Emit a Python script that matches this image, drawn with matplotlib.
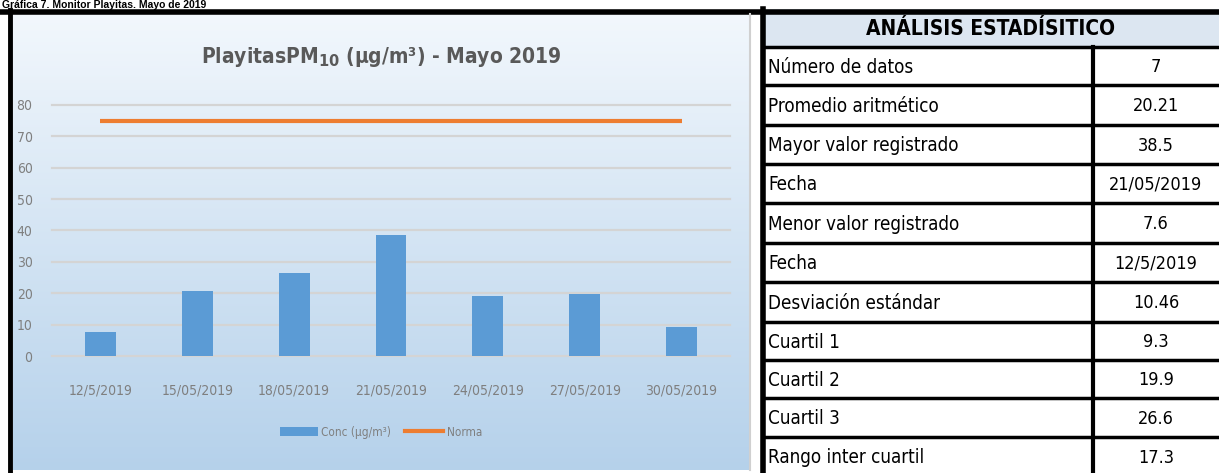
import numpy as np
import matplotlib
matplotlib.use("Agg")
import matplotlib.pyplot as plt
from matplotlib import font_manager as fm
from matplotlib.lines import Line2D
from matplotlib.patches import Patch, Rectangle

# data
fechas = ["12/5/2019", "15/05/2019", "18/05/2019", "21/05/2019",
          "24/05/2019", "27/05/2019", "30/05/2019"]
conc = [7.6, 20.6, 26.6, 38.5, 19.0, 19.9, 9.3]
norma = [75, 75, 75, 75, 75, 75, 75]

stat_labels = ["Número de datos", "Promedio aritmético", "Mayor valor registrado",
               "Fecha", "Menor valor registrado", "Fecha", "Desviación estándar",
               "Cuartil 1", "Cuartil 2", "Cuartil 3", "Rango inter cuartil"]
stat_values = ["7", "20.21", "38.5", "21/05/2019", "7.6", "12/5/2019", "10.46",
               "9.3", "19.9", "26.6", "17.3"]

W, H = 1219, 473
names = {f.name for f in fm.fontManager.ttflist}
NARROW = "Liberation Sans Narrow" if "Liberation Sans Narrow" in names else "DejaVu Sans"
STRETCH = "normal" if NARROW == "Liberation Sans Narrow" else "condensed"


def fx(px):
    return px / W


def fy(py):
    return 1 - py / H


fig = plt.figure(figsize=(W / 100, H / 100), dpi=100)
fig.patch.set_facecolor("white")

# caption at very top (cut off in the original, kept small here)
fig.text(fx(2), fy(0.5), "Gráfica 7. Monitor Playitas. Mayo de 2019", fontsize=7.5,
         fontweight="bold", family="Liberation Sans", va="top", ha="left")

# gradient background of chart panel
bg = fig.add_axes([fx(13), fy(470), fx(737), (470 - 14) / H], zorder=0)
grad = np.linspace(0, 1, 256)[:, None, None]
top = np.array([0.95, 0.97, 0.99])
bot = np.array([0.71, 0.82, 0.92])
img = top + (bot - top) * grad
bg.imshow(img, aspect="auto", extent=[0, 1, 0, 1], origin="upper")
bg.set_axis_off()

# frame lines
fig.add_artist(Line2D([fx(0), fx(W)], [fy(12), fy(12)], color="black", lw=4))
fig.add_artist(Line2D([fx(10), fx(10)], [fy(10), fy(H)], color="black", lw=3.5))
fig.add_artist(Line2D([fx(750), fx(750)], [fy(14), fy(470)], color="#d0d0d0", lw=1.5))

# main chart
ax = fig.add_axes([fx(52), fy(356), fx(678), (356 - 105) / H], zorder=2)
ax.patch.set_alpha(0)
x = np.arange(len(fechas))
ax.bar(x, conc, width=0.32, color="#5b9bd5", zorder=3, label="Conc (µg/m³)")
ax.plot(x, norma, color="#ed7d31", lw=3, solid_capstyle="butt", zorder=4, label="Norma")
ax.set_xlim(-0.5, len(fechas) - 0.5)
ax.set_ylim(0, 80)
ax.set_yticks(range(0, 81, 10))
ax.yaxis.grid(True, color="#d4d4d4", lw=1.6, zorder=1)
for gl in ax.get_ygridlines():
    gl.set_clip_on(False)
ax.set_axisbelow(True)
for s in ax.spines.values():
    s.set_visible(False)
ax.tick_params(length=0, colors="#7f7f7f")
ax.tick_params(axis="y", pad=14)
ax.tick_params(axis="x", pad=20)
ax.set_xticks(x)
ax.set_xticklabels(fechas)
for lab in ax.get_xticklabels() + ax.get_yticklabels():
    lab.set_family(NARROW)
    lab.set_stretch(STRETCH)
    lab.set_fontsize(10)
    lab.set_color("#7f7f7f")

fig.text(fx(381), fy(57), "PlayitasPM$_{\\mathbf{10}}$ (µg/m³) - Mayo 2019", fontsize=15,
         color="#595959", family=NARROW, stretch=STRETCH, fontweight="bold",
         ha="center", va="center")

handles = [Patch(facecolor="#5b9bd5", edgecolor="none", label="Conc (µg/m³)"),
           Line2D([], [], color="#ed7d31", lw=3, label="Norma")]
fig.legend(handles=handles, loc="center", bbox_to_anchor=(fx(381), fy(432)), ncol=2,
           frameon=False, prop={"family": NARROW, "stretch": STRETCH, "size": 8.5},
           labelcolor="#7f7f7f", handlelength=3.2, handleheight=0.9,
           columnspacing=1.2, handletextpad=0.3)

# statistics table
tl, tm, tr = 763, 1093, W
rows = [9, 47, 85, 125, 164, 203, 243, 282, 322, 360, 398, 437, 476]
fig.add_artist(Rectangle((fx(tl), fy(rows[1])), fx(tr - tl), (rows[1] - rows[0]) / H,
                         facecolor="#dce6f1", edgecolor="none", zorder=1))
fig.text(fx((tl + tr) / 2), fy((rows[0] + rows[1]) / 2 + 1), "ANÁLISIS ESTADÍSITICO",
         fontsize=15, fontweight="bold", family=NARROW, stretch=STRETCH,
         ha="center", va="center")
for i, (lab, val) in enumerate(zip(stat_labels, stat_values)):
    y0, y1 = rows[i + 1], rows[i + 2]
    yc = (y0 + y1) / 2 + 1
    fig.text(fx(tl + 5), fy(yc), lab, fontsize=13.5, family=NARROW, stretch=STRETCH,
             ha="left", va="center")
    fig.text(fx((tm + tr) / 2), fy(yc), val, fontsize=13, family=NARROW,
             stretch=STRETCH, ha="center", va="center")
for r in rows[1:-1]:
    fig.add_artist(Line2D([fx(tl), fx(tr)], [fy(r), fy(r)], color="black", lw=2.5))
fig.add_artist(Line2D([fx(tl), fx(tl)], [fy(9), fy(H)], color="black", lw=4))
fig.add_artist(Line2D([fx(tm), fx(tm)], [fy(rows[1]), fy(H)], color="black", lw=3))

fig.savefig("out.png", dpi=100)
